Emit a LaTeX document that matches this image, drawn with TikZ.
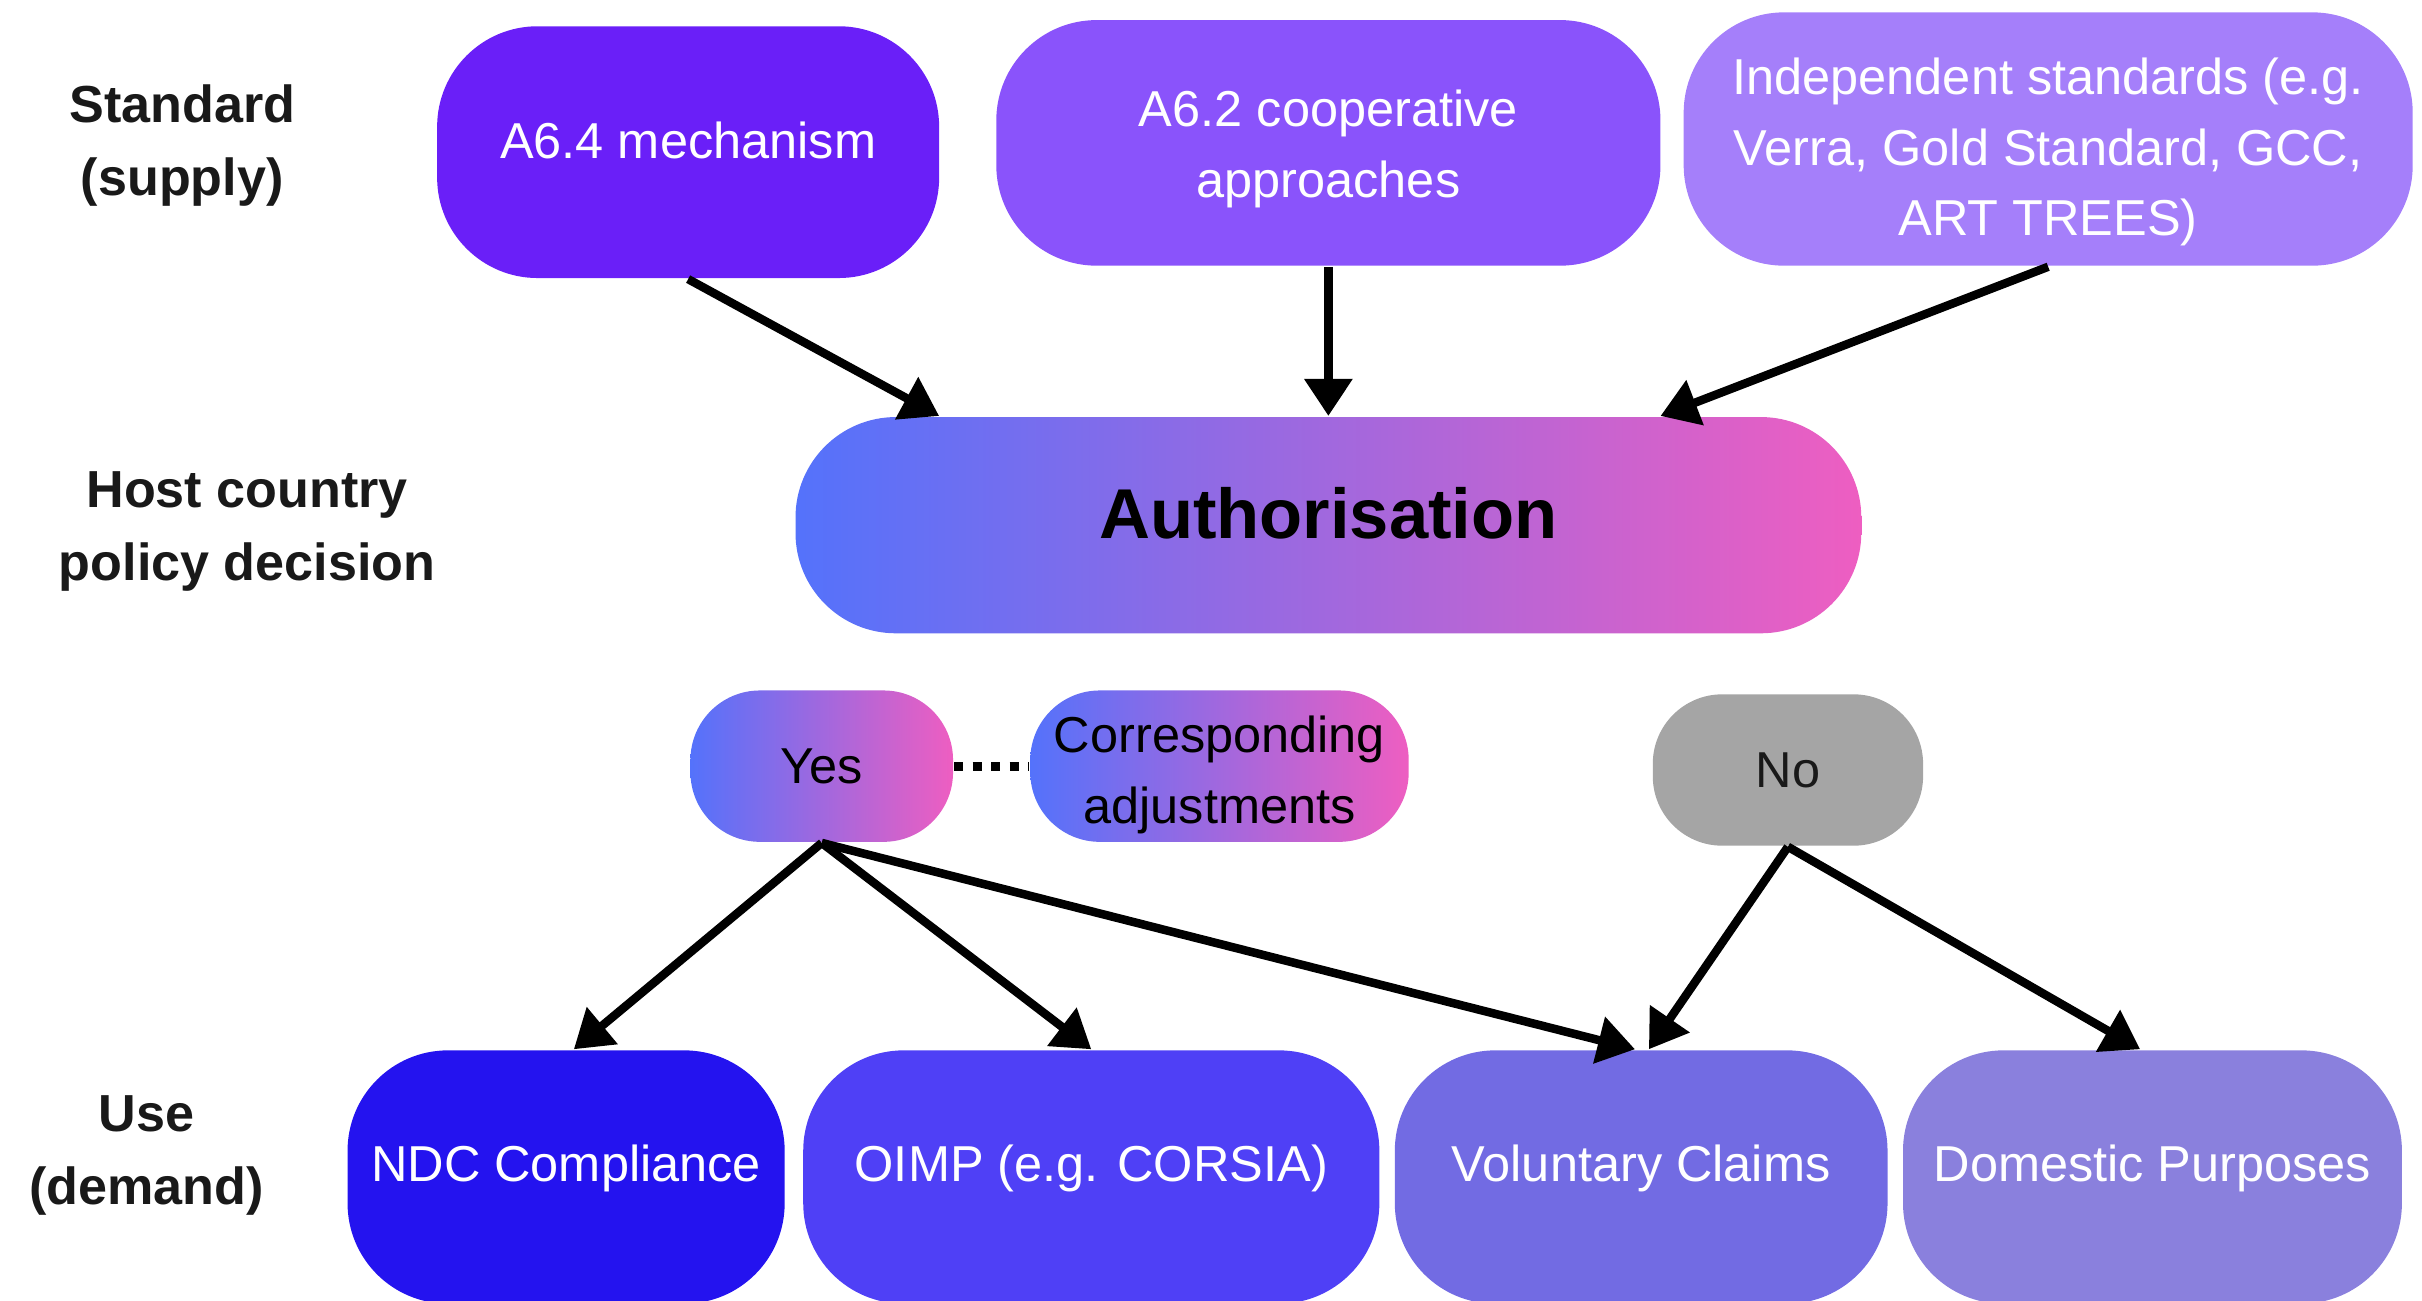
\documentclass[tikz,border=0pt]{standalone}
\usepackage{fontspec}
\setmainfont{Liberation Sans}
\usetikzlibrary{calc,arrows.meta}
\definecolor{mechviolet}{RGB}{106,31,248}
\definecolor{coopviolet}{RGB}{138,83,251}
\definecolor{indepviolet}{RGB}{165,127,250}
\definecolor{gradblue}{RGB}{84,114,251}
\definecolor{gradpink}{RGB}{238,94,193}
\definecolor{nogray}{RGB}{165,165,165}
\definecolor{ndcblue}{RGB}{36,19,239}
\definecolor{oimpblue}{RGB}{79,64,246}
\definecolor{volviolet}{RGB}{114,107,227}
\definecolor{domviolet}{RGB}{138,128,221}
\tikzset{
    pill/.style={rounded corners=6.5mm, inner sep=0pt, align=center, text=white,
        font=\fontsize{9.3}{13}\selectfont},
    smallpill/.style={pill, rounded corners=4.5mm, minimum height=9.8mm},
    usepill/.style={pill, minimum height=16.4mm, text height=2.5mm, text depth=1.9mm},
    gradfill/.style={left color=gradblue, right color=gradpink, text=black},
    rowlabel/.style={align=center, text=black!90, font=\fontsize{9.6}{13.5}\selectfont\bfseries},
    flow/.style={line width=0.55mm, -{Triangle[length=2.4mm,width=3mm]}}
}
\begin{document}
\begin{tikzpicture}[x=0.1mm,y=-0.1mm]
\useasboundingbox (0,0) rectangle (1568,842);
\node[rowlabel] (std) at (118,94) {Standard\\(supply)};
\node[rowlabel] (host) at (160,344) {Host country\\policy decision};
\node[rowlabel] (use) at (95,748) {Use\\(demand)};
\node[pill,fill=mechviolet,minimum width=32.5mm,minimum height=16.3mm,text height=2.45mm,text depth=1.6mm] (a64) at (445.5,98.5) {A6.4 mechanism};
\node[pill,fill=coopviolet,minimum width=43mm,minimum height=15.9mm,text height=7.7mm] (a62) at (860,92.5) {A6.2 cooperative\\approaches};
\node[pill,fill=indepviolet,minimum width=47.2mm,minimum height=16.4mm,text height=13.2mm] (indep) at (1326,90) {Independent standards (e.g.\\Verra, Gold Standard, GCC,\\ART TREES)};
\node[pill,gradfill,minimum width=69mm,minimum height=14mm,text height=3.3mm,text depth=1.6mm,font=\fontsize{13}{15}\selectfont\bfseries] (auth) at (860,340) {Authorisation};
\node[smallpill,gradfill,minimum width=17mm] (yes) at (532,496) {Yes};
\node[smallpill,gradfill,minimum width=24.5mm,text height=8.1mm] (ca) at (789.5,496) {Corresponding\\adjustments};
\node[smallpill,fill=nogray,text=black!90,minimum width=17.5mm] (no) at (1157.5,498.5) {No};
\node[usepill,fill=ndcblue,minimum width=28.3mm] (ndc) at (366.5,762) {NDC Compliance};
\node[usepill,fill=oimpblue,minimum width=37.3mm] (oimp) at (706.5,762) {OIMP (e.g. CORSIA)};
\node[usepill,fill=volviolet,minimum width=31.9mm] (vol) at (1062.5,762) {Voluntary Claims};
\node[usepill,fill=domviolet,minimum width=32.3mm] (dom) at (1393.5,762) {Domestic Purposes};
\draw[flow] (a64.south) -- ([xshift=-25.2mm]auth.north);
\draw[flow] (a62.south) -- (auth.north);
\draw[flow] (indep.south) -- ([xshift=21.5mm]auth.north);
\draw[line width=0.6mm,dash pattern=on 0.6mm off 0.6mm] (yes.east) -- (ca.west);
\draw[flow] (yes.south) -- ([xshift=0.5mm]ndc.north);
\draw[flow] (yes.south) -- (oimp.north);
\draw[flow] (yes.south) -- ([xshift=-0.4mm]vol.north);
\draw[flow] (no.south) -- ([xshift=0.5mm]vol.north);
\draw[flow] (no.south) -- ([xshift=-0.8mm]dom.north);
\end{tikzpicture}
\end{document}
